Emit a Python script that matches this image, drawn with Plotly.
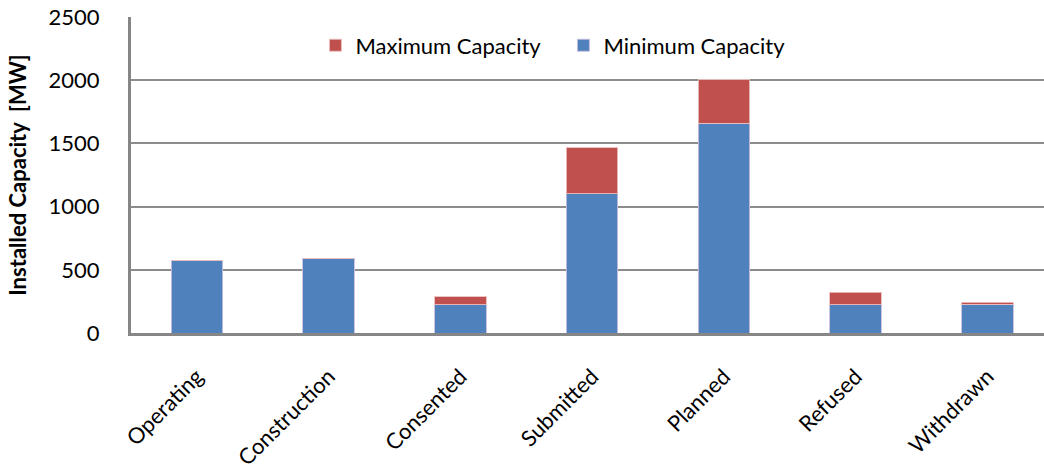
import plotly.graph_objects as go

categories = ["Operating", "Construction", "Consented", "Submitted", "Planned", "Refused", "Withdrawn"]
min_capacity = [575, 593, 222, 1101, 1659, 225, 228]
max_extra = [0, 0, 66, 365, 346, 98, 16]
y_ticks = [0, 500, 1000, 1500, 2000, 2500]

FONT = "Lato, Carlito, Calibri, sans-serif"

fig = go.Figure()
fig.add_trace(go.Bar(
    x=categories, y=min_capacity, name="Minimum Capacity",
    marker=dict(color="#4F81BD", line=dict(color="rgba(200,190,220,0.9)", width=1)),
    width=0.39,
))
fig.add_trace(go.Bar(
    x=categories, y=max_extra, name="Maximum Capacity",
    marker=dict(color="#C0504D", line=dict(color="rgba(235,190,190,0.9)", width=1)),
    width=0.39,
))

fig.update_layout(
    barmode="stack",
    width=1044, height=472,
    margin=dict(l=131, r=0, t=17, b=139),
    plot_bgcolor="white", paper_bgcolor="white",
    font=dict(family=FONT, size=22, color="black"),
    showlegend=True,
    legend=dict(
        orientation="h", traceorder="reversed",
        x=0.202, y=0.91, xanchor="left", yanchor="middle",
        font=dict(family=FONT, size=22, color="black"),
        bgcolor="rgba(0,0,0,0)",
        itemwidth=30,
        entrywidth=203,
    ),
)
fig.update_xaxes(
    range=[-0.5, 6.43],
    tickangle=-45,
    tickfont=dict(family=FONT, size=22),
    showline=True, linecolor="#868686", linewidth=3,
    showgrid=False, automargin=False,
    ticks="", ticklabelstandoff=19,
)
fig.update_yaxes(
    range=[0, 2500],
    tickvals=y_ticks,
    tickfont=dict(family=FONT, size=22),
    showgrid=True, gridcolor="#8C8C8C", gridwidth=2,
    showline=True, linecolor="#868686", linewidth=3,
    zeroline=False, automargin=False,
    ticks="", ticklabelstandoff=24,
    title=dict(text="<b>Installed Capacity&nbsp; [MW]</b>", font=dict(family=FONT, size=22), standoff=16),
)

fig.write_html("out.html")
